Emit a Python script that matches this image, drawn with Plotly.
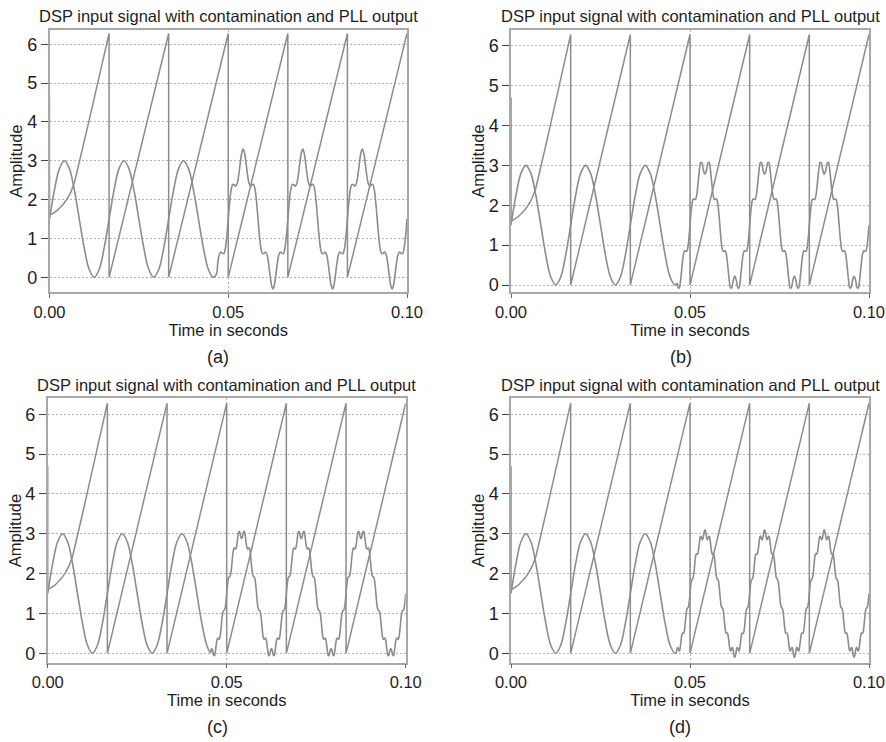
import plotly.graph_objects as go

# ---------------- data ----------------
PERIOD_MS = 16.667                      # one cycle of the 60 Hz input
RESET_MS = [16.667, 33.333, 50.0, 66.667, 83.333, 100.0]   # PLL phase resets
PLL_LOW, PLL_HIGH = 0.0, 6.28

# first (locking) ramp of the PLL output
PLL_START_T_MS = [0, 0, 1, 2, 3, 4, 5, 6, 7, 8, 9, 10, 11, 12, 13, 14, 15, 16, 16.667]
PLL_START_V = [4.70, 1.60, 1.65, 1.71, 1.80, 1.90, 2.03, 2.20, 2.45, 2.82, 3.21,
               3.61, 4.01, 4.41, 4.81, 5.21, 5.61, 6.01, 6.28]

# clean input signal, one sample every 1.3889 ms (30 deg of the cycle)
CLEAN_STEP_MS = 1.38889
CLEAN_V = [1.5, 2.25, 2.799, 3.0, 2.799, 2.25, 1.5, 0.75, 0.201, 0.0, 0.201, 0.75,
           1.5, 2.25, 2.799, 3.0, 2.799, 2.25, 1.5, 0.75, 0.201, 0.0, 0.201, 0.75,
           1.5, 2.25, 2.799, 3.0, 2.799, 2.25, 1.5, 0.75, 0.201, 0.0, 0.201]

# one cycle of each contaminated signal (uniform samples over a cycle,
# cycle starting at the rising 1.5 crossing)
A_CYCLE = [1.5, 1.947, 2.264, 2.393, 2.382, 2.349, 2.414, 2.624, 2.927, 3.194,
           3.3, 3.194, 2.927, 2.624, 2.414, 2.349, 2.382, 2.393, 2.264, 1.947,
           1.5, 1.053, 0.736, 0.607, 0.618, 0.651, 0.586, 0.376, 0.073, -0.194,
           -0.3, -0.194, 0.073, 0.376, 0.586, 0.651, 0.618, 0.607, 0.736, 1.053]

B_CYCLE = [1.5, 1.824, 2.054, 2.151, 2.151, 2.143, 2.215, 2.405, 2.673, 2.926,
           3.072, 3.071, 2.962, 2.835, 2.78, 2.835, 2.962, 3.071, 3.072, 2.926,
           2.673, 2.405, 2.215, 2.143, 2.151, 2.151, 2.054, 1.824, 1.5,
           1.176, 0.946, 0.849, 0.849, 0.857, 0.785, 0.595, 0.327, 0.074, -0.072,
           -0.071, 0.038, 0.165, 0.22, 0.165, 0.038, -0.071, -0.072, 0.074, 0.327,
           0.595, 0.785, 0.857, 0.849, 0.849, 0.946, 1.176]

C_CYCLE = [1.5, 1.692, 1.833, 1.904, 1.923, 1.939, 2.003, 2.134, 2.311, 2.484,
           2.602, 2.646, 2.634, 2.616, 2.642, 2.732, 2.864, 2.990, 3.059, 3.051,
           2.985, 2.911, 2.88,
           2.911, 2.985, 3.051, 3.059, 2.990, 2.864, 2.732, 2.642, 2.616, 2.634,
           2.646, 2.602, 2.484, 2.311, 2.134, 2.003, 1.939, 1.923, 1.904, 1.833,
           1.692, 1.5,
           1.308, 1.167, 1.096, 1.077, 1.061, 0.997, 0.866, 0.689, 0.516, 0.398,
           0.354, 0.366, 0.384, 0.358, 0.268, 0.136, 0.010, -0.059, -0.051, 0.015,
           0.089, 0.12, 0.089, 0.015, -0.051, -0.059, 0.010, 0.136, 0.268, 0.358,
           0.384, 0.366, 0.354, 0.398, 0.516, 0.689, 0.866, 0.997, 1.061, 1.077,
           1.096, 1.167, 1.308]

D_CYCLE = [1.5, 1.661, 1.781, 1.841, 1.859, 1.876, 1.932, 2.045, 2.197, 2.347,
           2.452, 2.496, 2.495, 2.490, 2.523, 2.610, 2.734, 2.854, 2.928, 2.939,
           2.903, 2.861, 2.856, 2.905, 2.989, 3.068, 3.1,
           3.068, 2.989, 2.905, 2.856, 2.861, 2.903, 2.939, 2.928, 2.854, 2.734,
           2.610, 2.523, 2.490, 2.495, 2.496, 2.452, 2.347, 2.197, 2.045, 1.932,
           1.876, 1.859, 1.841, 1.781, 1.661, 1.5,
           1.339, 1.219, 1.159, 1.141, 1.124, 1.068, 0.955, 0.803, 0.653, 0.548,
           0.504, 0.505, 0.510, 0.477, 0.390, 0.266, 0.146, 0.072, 0.061, 0.097,
           0.139, 0.144, 0.095, 0.011, -0.068, -0.1, -0.068, 0.011, 0.095, 0.144,
           0.139, 0.097, 0.061, 0.072, 0.146, 0.266, 0.390, 0.477, 0.510, 0.505,
           0.504, 0.548, 0.653, 0.803, 0.955, 1.068, 1.124, 1.141, 1.159, 1.219,
           1.339]

CYCLES = [A_CYCLE, B_CYCLE, C_CYCLE, D_CYCLE]
# sample (inside the cycle that starts at 33.333 ms) where contamination begins
SWITCH_INDEX = [32, 44, 64, 80]
PANEL_LABELS = ["(a)", "(b)", "(c)", "(d)"]
Y_RANGES = [[-0.386, 6.369], [-0.183, 6.393], [-0.236, 6.402], [-0.236, 6.402]]
X_TICKS = [0.0, 0.05, 0.10]
Y_TICKS = [0, 1, 2, 3, 4, 5, 6]
TITLE = "DSP input signal with contamination and PLL output"

# ---------------- build series ----------------
pll_t = list(PLL_START_T_MS)
pll_v = list(PLL_START_V)
for r0, r1 in zip(RESET_MS[:-1], RESET_MS[1:]):
    pll_t += [r0, r1]
    pll_v += [PLL_LOW, PLL_HIGH]
pll_t_s = [t / 1000 for t in pll_t]

clean_t = [i * CLEAN_STEP_MS for i in range(len(CLEAN_V))]


def build_signal(cycle, switch_idx):
    step = PERIOD_MS / len(cycle)
    start0 = RESET_MS[1]
    switch_t = start0 + switch_idx * step
    ts, vs = [], []
    for t, v in zip(clean_t, CLEAN_V):
        if t < switch_t - 1e-6:
            ts.append(t)
            vs.append(v)
    for ci, start in enumerate(RESET_MS[1:]):
        for i, v in enumerate(cycle):
            if ci == 0 and i < switch_idx:
                continue
            t = start + i * step
            if t <= RESET_MS[-1] + 1e-6:
                ts.append(t)
                vs.append(v)
    return [t / 1000 for t in ts], vs


# ---------------- figure ----------------
W, H = 886, 742
LINE = "#8c8c8c"
FRAME = "#a8a8a8"
GRID = "#b5b5b5"
TXT = "#1e1e1e"
FONT = "Liberation Sans, Arial, sans-serif"

# plot areas in window pixels: (left, right, top, bottom)
BOXES = [(49.5, 407, 30, 292.3), (511, 869, 30, 292.3),
         (47.7, 405.7, 398.3, 662.7), (511, 869, 398.3, 662.7)]
LABEL_POS = [(218, 357), (681, 357), (217, 727), (680, 727)]
TITLE_Y = [16, 16, 385, 385]


def px(xw):
    return xw / W


def py(yw):
    return 1 - yw / H


fig = go.Figure()
annotations = []
for i in range(4):
    xa = "x" if i == 0 else f"x{i + 1}"
    ya = "y" if i == 0 else f"y{i + 1}"
    l, r, t, b = BOXES[i]
    sx, sy = build_signal(CYCLES[i], SWITCH_INDEX[i])
    fig.add_trace(go.Scatter(x=pll_t_s, y=pll_v, mode="lines", name="PLL output",
                             line=dict(color=LINE, width=1.5),
                             xaxis=xa, yaxis=ya, showlegend=False))
    fig.add_trace(go.Scatter(x=sx, y=sy, mode="lines", name="DSP input",
                             line=dict(color=LINE, width=1.6, shape="spline"),
                             xaxis=xa, yaxis=ya, showlegend=False))
    xkey = "xaxis" if i == 0 else f"xaxis{i + 1}"
    ykey = "yaxis" if i == 0 else f"yaxis{i + 1}"
    fig.layout[xkey] = dict(
        domain=[px(l), px(r)], anchor=ya, range=[0, 0.1], automargin=False,
        tickvals=X_TICKS, tickformat=".2f",
        showgrid=True, gridcolor=GRID, griddash="2px,2px", gridwidth=1,
        showline=True, mirror=True, linecolor=FRAME, linewidth=1.5,
        ticks="outside", ticklen=4, tickcolor="#666", zeroline=False,
        tickfont=dict(family=FONT, size=16.5, color=TXT),
        title=dict(text="Time in seconds", standoff=2,
                   font=dict(family=FONT, size=16.5, color=TXT)))
    fig.layout[ykey] = dict(
        domain=[py(b), py(t)], anchor=xa, range=Y_RANGES[i], automargin=False,
        tickvals=Y_TICKS,
        showgrid=True, gridcolor=GRID, griddash="2px,2px", gridwidth=1,
        showline=True, mirror=True, linecolor=FRAME, linewidth=1.5,
        ticks="outside", ticklen=7, tickcolor="#444", zeroline=False,
        tickfont=dict(family=FONT, size=18, color=TXT),
        title=dict(text="Amplitude", standoff=0,
                   font=dict(family=FONT, size=16.5, color=TXT)))
    annotations.append(dict(text=TITLE, x=px((l + r) / 2), y=py(TITLE_Y[i]),
                            xref="paper", yref="paper", showarrow=False,
                            xanchor="center", yanchor="middle",
                            font=dict(family=FONT, size=16.5, color=TXT)))
    lx, ly = LABEL_POS[i]
    annotations.append(dict(text=PANEL_LABELS[i], x=px(lx), y=py(ly),
                            xref="paper", yref="paper", showarrow=False,
                            xanchor="center", yanchor="middle",
                            font=dict(family=FONT, size=18, color=TXT)))

fig.update_layout(width=W, height=H, margin=dict(l=0, r=0, t=0, b=0),
                  paper_bgcolor="white", plot_bgcolor="white",
                  annotations=annotations, showlegend=False)
# the page's default 8px body margin would push the figure out of the window
fig.write_html("out.html", config={"displayModeBar": False},
               post_script="document.body.style.margin='0px';"
                           "document.body.style.overflow='hidden';")
